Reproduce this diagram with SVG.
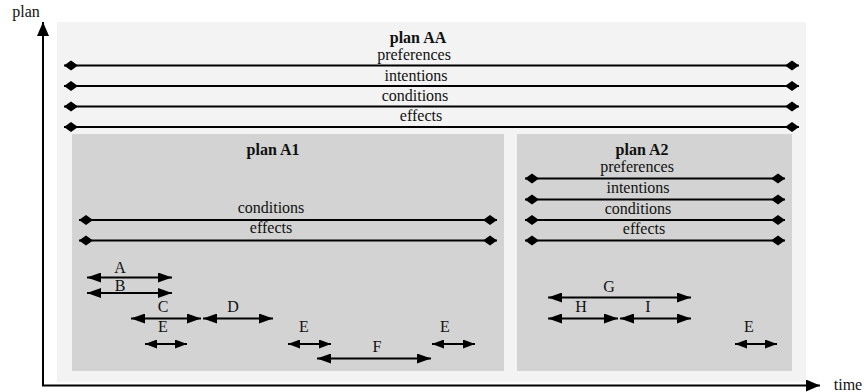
<svg xmlns="http://www.w3.org/2000/svg" width="864" height="392" viewBox="0 0 864 392">
<defs>
<marker id="dia" markerUnits="userSpaceOnUse" markerWidth="15" markerHeight="11" viewBox="0 0 15 11" refX="14.5" refY="5.5" orient="auto-start-reverse"><path d="M0.5,5.5 L7.5,0.5 L14.5,5.5 L7.5,10.5 Z" fill="#000"/></marker>
<marker id="arr" markerUnits="userSpaceOnUse" markerWidth="14" markerHeight="10" viewBox="0 0 14 10" refX="14" refY="5" orient="auto-start-reverse"><path d="M0,0 L14,5 L0,10 Z" fill="#000"/></marker>
<marker id="arrs" markerUnits="userSpaceOnUse" markerWidth="12" markerHeight="9" viewBox="0 0 12 9" refX="12" refY="4.5" orient="auto-start-reverse"><path d="M0,0 L12,4.5 L0,9 Z" fill="#000"/></marker>
<marker id="axis" markerUnits="userSpaceOnUse" markerWidth="15" markerHeight="12" viewBox="0 0 15 12" refX="14" refY="6" orient="auto"><path d="M0,0 L14,6 L0,12 Z" fill="#000"/></marker>
</defs>
<style>
text{font-family:"Liberation Serif","Times New Roman",serif;font-size:16px;fill:#111;text-anchor:middle}
.b{font-weight:bold}
.d{stroke:#000;stroke-width:2;fill:none;marker-start:url(#dia);marker-end:url(#dia)}
.a{stroke:#000;stroke-width:2;fill:none;marker-start:url(#arr);marker-end:url(#arr)}
.s{stroke:#000;stroke-width:2;fill:none;marker-start:url(#arrs);marker-end:url(#arrs)}
.ax{stroke:#000;stroke-width:2;fill:none;marker-end:url(#axis)}
</style>
<g id="planAA">
<rect x="57" y="22" width="749" height="360" fill="#f3f3f3"/>
<text class="b" x="418" y="43">plan AA</text>
<text x="414" y="60">preferences</text>
<text x="416" y="81">intentions</text>
<text x="415" y="101">conditions</text>
<text x="421" y="121">effects</text>
</g>
<g id="planA1">
<rect x="72" y="134" width="432" height="237" fill="#d3d3d3"/>
<text class="b" x="273" y="155">plan A1</text>
<text x="271" y="213">conditions</text>
<text x="271" y="233">effects</text>
<text x="120" y="273">A</text>
<text x="120" y="291">B</text>
<text x="163" y="312">C</text>
<text x="233" y="312">D</text>
<text x="163" y="332">E</text>
<text x="304" y="332">E</text>
<text x="445" y="332">E</text>
<text x="377" y="352">F</text>
</g>
<g id="planA2">
<rect x="517" y="134" width="275" height="237" fill="#d3d3d3"/>
<text class="b" x="642" y="155">plan A2</text>
<text x="637" y="172">preferences</text>
<text x="638" y="193">intentions</text>
<text x="638" y="214">conditions</text>
<text x="644" y="234">effects</text>
<text x="609" y="292">G</text>
<text x="581" y="312">H</text>
<text x="648" y="312">I</text>
<text x="749" y="332">E</text>
</g>
<g id="axes">
<line class="ax" x1="43" y1="386" x2="43" y2="22"/>
<line class="ax" x1="42" y1="385.5" x2="820" y2="385.5"/>
<text x="26" y="17">plan</text>
<text x="848" y="390">time</text>
</g>
<g id="connectors">
<line class="d" x1="64" y1="65.5" x2="799" y2="65.5"/>
<line class="d" x1="64" y1="86" x2="799" y2="86"/>
<line class="d" x1="64" y1="106.5" x2="799" y2="106.5"/>
<line class="d" x1="64" y1="127" x2="799" y2="127"/>
<line class="d" x1="79" y1="220" x2="497" y2="220"/>
<line class="d" x1="79" y1="240.5" x2="497" y2="240.5"/>
<line class="d" x1="525" y1="178.5" x2="785" y2="178.5"/>
<line class="d" x1="525" y1="199.5" x2="785" y2="199.5"/>
<line class="d" x1="525" y1="220" x2="785" y2="220"/>
<line class="d" x1="525" y1="240.5" x2="785" y2="240.5"/>
<line class="a" x1="87" y1="277.5" x2="172" y2="277.5"/>
<line class="a" x1="87" y1="293" x2="172" y2="293"/>
<line class="a" x1="131" y1="318.5" x2="201" y2="318.5"/>
<line class="a" x1="203" y1="318.5" x2="273" y2="318.5"/>
<line class="s" x1="145" y1="344" x2="187" y2="344"/>
<line class="s" x1="288" y1="344" x2="331" y2="344"/>
<line class="s" x1="432" y1="344" x2="475" y2="344"/>
<line class="a" x1="317" y1="358.5" x2="431" y2="358.5"/>
<line class="a" x1="548" y1="297.5" x2="691" y2="297.5"/>
<line class="a" x1="548" y1="318.5" x2="618" y2="318.5"/>
<line class="a" x1="620" y1="318.5" x2="691" y2="318.5"/>
<line class="s" x1="735" y1="344" x2="777" y2="344"/>
</g>
</svg>
